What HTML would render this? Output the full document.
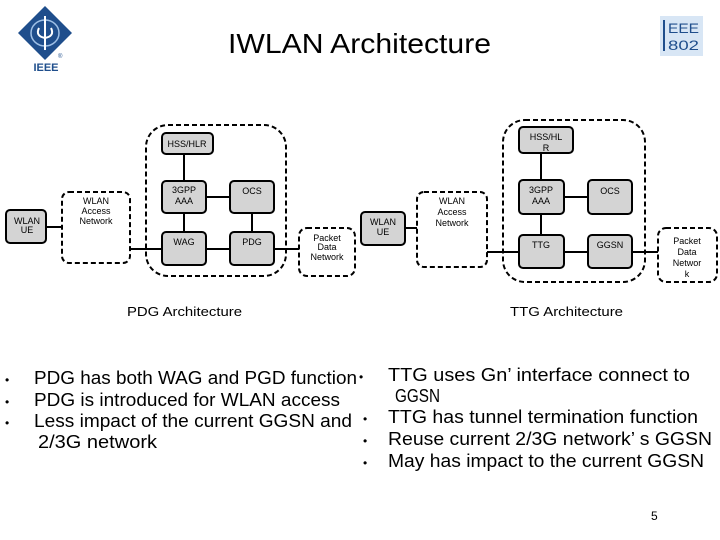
<!DOCTYPE html>
<html><head><meta charset="utf-8"><style>
html,body{margin:0;padding:0;background:#fff;}
svg{display:block;}
text{font-family:"Liberation Sans",sans-serif;}
</style></head><body>
<svg width="720" height="540" viewBox="0 0 720 540" xmlns="http://www.w3.org/2000/svg">
<rect width="720" height="540" fill="#fff"/>
<!-- IEEE logo -->
<polygon points="45,6 72,33 45,60 18,33" fill="#1f4e8c"/>
<ellipse cx="45" cy="33" rx="14" ry="13" fill="none" stroke="#9fc0e6" stroke-width="1.5"/>
<line x1="45" y1="16" x2="45" y2="50" stroke="#fff" stroke-width="2"/>
<path d="M39,28 Q35,36 45,38 Q55,36 51,28" fill="none" stroke="#fff" stroke-width="2"/>
<text x="58" y="58" font-size="6" fill="#1f4e8c">®</text>
<text x="46" y="71" font-size="11" font-weight="bold" fill="#1f4e8c" text-anchor="middle">IEEE</text>
<!-- IEEE 802 -->
<rect x="660" y="16" width="43" height="40" fill="#d8e6f5"/>
<line x1="664" y1="20" x2="664" y2="51" stroke="#1f4e8c" stroke-width="2"/>
<text x="668" y="33" font-size="14" fill="#1f4e8c" textLength="31" lengthAdjust="spacingAndGlyphs">EEE</text>
<text x="668" y="50" font-size="14" fill="#1f4e8c" textLength="31" lengthAdjust="spacingAndGlyphs">802</text>
<!-- title -->
<text x="228" y="53" font-size="28" fill="#000" textLength="263" lengthAdjust="spacingAndGlyphs">IWLAN Architecture</text>

<g stroke="#000" stroke-width="2">
<!-- left lines -->
<line x1="46" y1="227" x2="62" y2="227"/>
<line x1="130" y1="249" x2="162" y2="249"/>
<line x1="206" y1="249" x2="230" y2="249"/>
<line x1="274" y1="249" x2="299" y2="249"/>
<line x1="184" y1="154" x2="184" y2="181"/>
<line x1="184" y1="213" x2="184" y2="232"/>
<line x1="206" y1="197" x2="230" y2="197"/>
<line x1="252" y1="213" x2="252" y2="232"/>
<!-- right lines -->
<line x1="405" y1="228" x2="417" y2="228"/>
<line x1="487" y1="252" x2="519" y2="252"/>
<line x1="564" y1="252" x2="588" y2="252"/>
<line x1="632" y1="252" x2="658" y2="252"/>
<line x1="541" y1="152" x2="541" y2="180"/>
<line x1="541" y1="214" x2="541" y2="235"/>
<line x1="564" y1="197" x2="588" y2="197"/>
</g>
<g fill="none" stroke="#000" stroke-width="2" stroke-dasharray="5,3">
<rect x="62" y="192" width="68" height="71" rx="7"/>
<rect x="146" y="125" width="140" height="151" rx="22"/>
<rect x="299" y="228" width="56" height="48" rx="8"/>
<rect x="417" y="192" width="70" height="75" rx="7"/>
<rect x="503" y="120" width="142" height="162" rx="22"/>
<rect x="658" y="228" width="59" height="54" rx="8"/>
</g>
<g fill="#d4d4d4" stroke="#000" stroke-width="2">
<rect x="6" y="210" width="40" height="33" rx="4"/>
<rect x="162" y="133" width="51" height="21" rx="4"/>
<rect x="162" y="181" width="44" height="32" rx="4"/>
<rect x="230" y="181" width="44" height="32" rx="4"/>
<rect x="162" y="232" width="44" height="33" rx="4"/>
<rect x="230" y="232" width="44" height="33" rx="4"/>
<rect x="361" y="212" width="44" height="33" rx="4"/>
<rect x="519" y="127" width="54" height="26" rx="4"/>
<rect x="519" y="180" width="45" height="34" rx="4"/>
<rect x="588" y="180" width="44" height="34" rx="4"/>
<rect x="519" y="235" width="45" height="33" rx="4"/>
<rect x="588" y="235" width="44" height="33" rx="4"/>
</g>
<g font-size="9" fill="#000" text-anchor="middle">
<text x="27" y="224">WLAN</text><text x="27" y="233">UE</text>
<text x="96" y="204">WLAN</text><text x="96" y="214">Access</text><text x="96" y="224">Network</text>
<text x="187" y="147">HSS/HLR</text>
<text x="184" y="193">3GPP</text><text x="184" y="204">AAA</text>
<text x="252" y="194">OCS</text>
<text x="184" y="245">WAG</text>
<text x="252" y="245">PDG</text>
<text x="327" y="241">Packet</text><text x="327" y="250">Data</text><text x="327" y="260">Network</text>
<text x="383" y="225">WLAN</text><text x="383" y="235">UE</text>
<text x="452" y="204">WLAN</text><text x="452" y="215">Access</text><text x="452" y="226">Network</text>
<text x="546" y="140">HSS/HL</text><text x="546" y="151">R</text>
<text x="541" y="193">3GPP</text><text x="541" y="204">AAA</text>
<text x="610" y="194">OCS</text>
<text x="541" y="248">TTG</text>
<text x="610" y="248">GGSN</text>
<text x="687" y="244">Packet</text><text x="687" y="255">Data</text><text x="687" y="266">Networ</text><text x="687" y="277">k</text>
</g>
<text x="127" y="316" font-size="13" textLength="115" lengthAdjust="spacingAndGlyphs">PDG Architecture</text>
<text x="510" y="316" font-size="13" textLength="113" lengthAdjust="spacingAndGlyphs">TTG Architecture</text>

<g font-size="18" fill="#000" lengthAdjust="spacingAndGlyphs">
<text x="5" y="384" font-size="12">•</text>
<text x="5" y="406" font-size="12">•</text>
<text x="5" y="427" font-size="12">•</text>
<text x="34" y="384" textLength="323" lengthAdjust="spacingAndGlyphs">PDG has both WAG and PGD function</text>
<text x="34" y="406" textLength="306" lengthAdjust="spacingAndGlyphs">PDG is introduced for WLAN access</text>
<text x="34" y="427" textLength="318" lengthAdjust="spacingAndGlyphs">Less impact of the current GGSN and</text>
<text x="38" y="448" textLength="119" lengthAdjust="spacingAndGlyphs">2/3G network</text>
<text x="359" y="381" font-size="12">•</text>
<text x="363" y="423" font-size="12">•</text>
<text x="363" y="445" font-size="12">•</text>
<text x="363" y="467" font-size="12">•</text>
<text x="388" y="381" textLength="302" lengthAdjust="spacingAndGlyphs">TTG uses Gn’  interface connect to</text>
<text x="395" y="402" textLength="45" lengthAdjust="spacingAndGlyphs">GGSN</text>
<text x="388" y="423" textLength="310" lengthAdjust="spacingAndGlyphs">TTG has tunnel termination function</text>
<text x="388" y="445" textLength="324" lengthAdjust="spacingAndGlyphs">Reuse current 2/3G network’ s GGSN</text>
<text x="388" y="467" textLength="316" lengthAdjust="spacingAndGlyphs">May has impact to the current GGSN</text>
</g>
<text x="651" y="520" font-size="12">5</text>
</svg>
</body></html>
